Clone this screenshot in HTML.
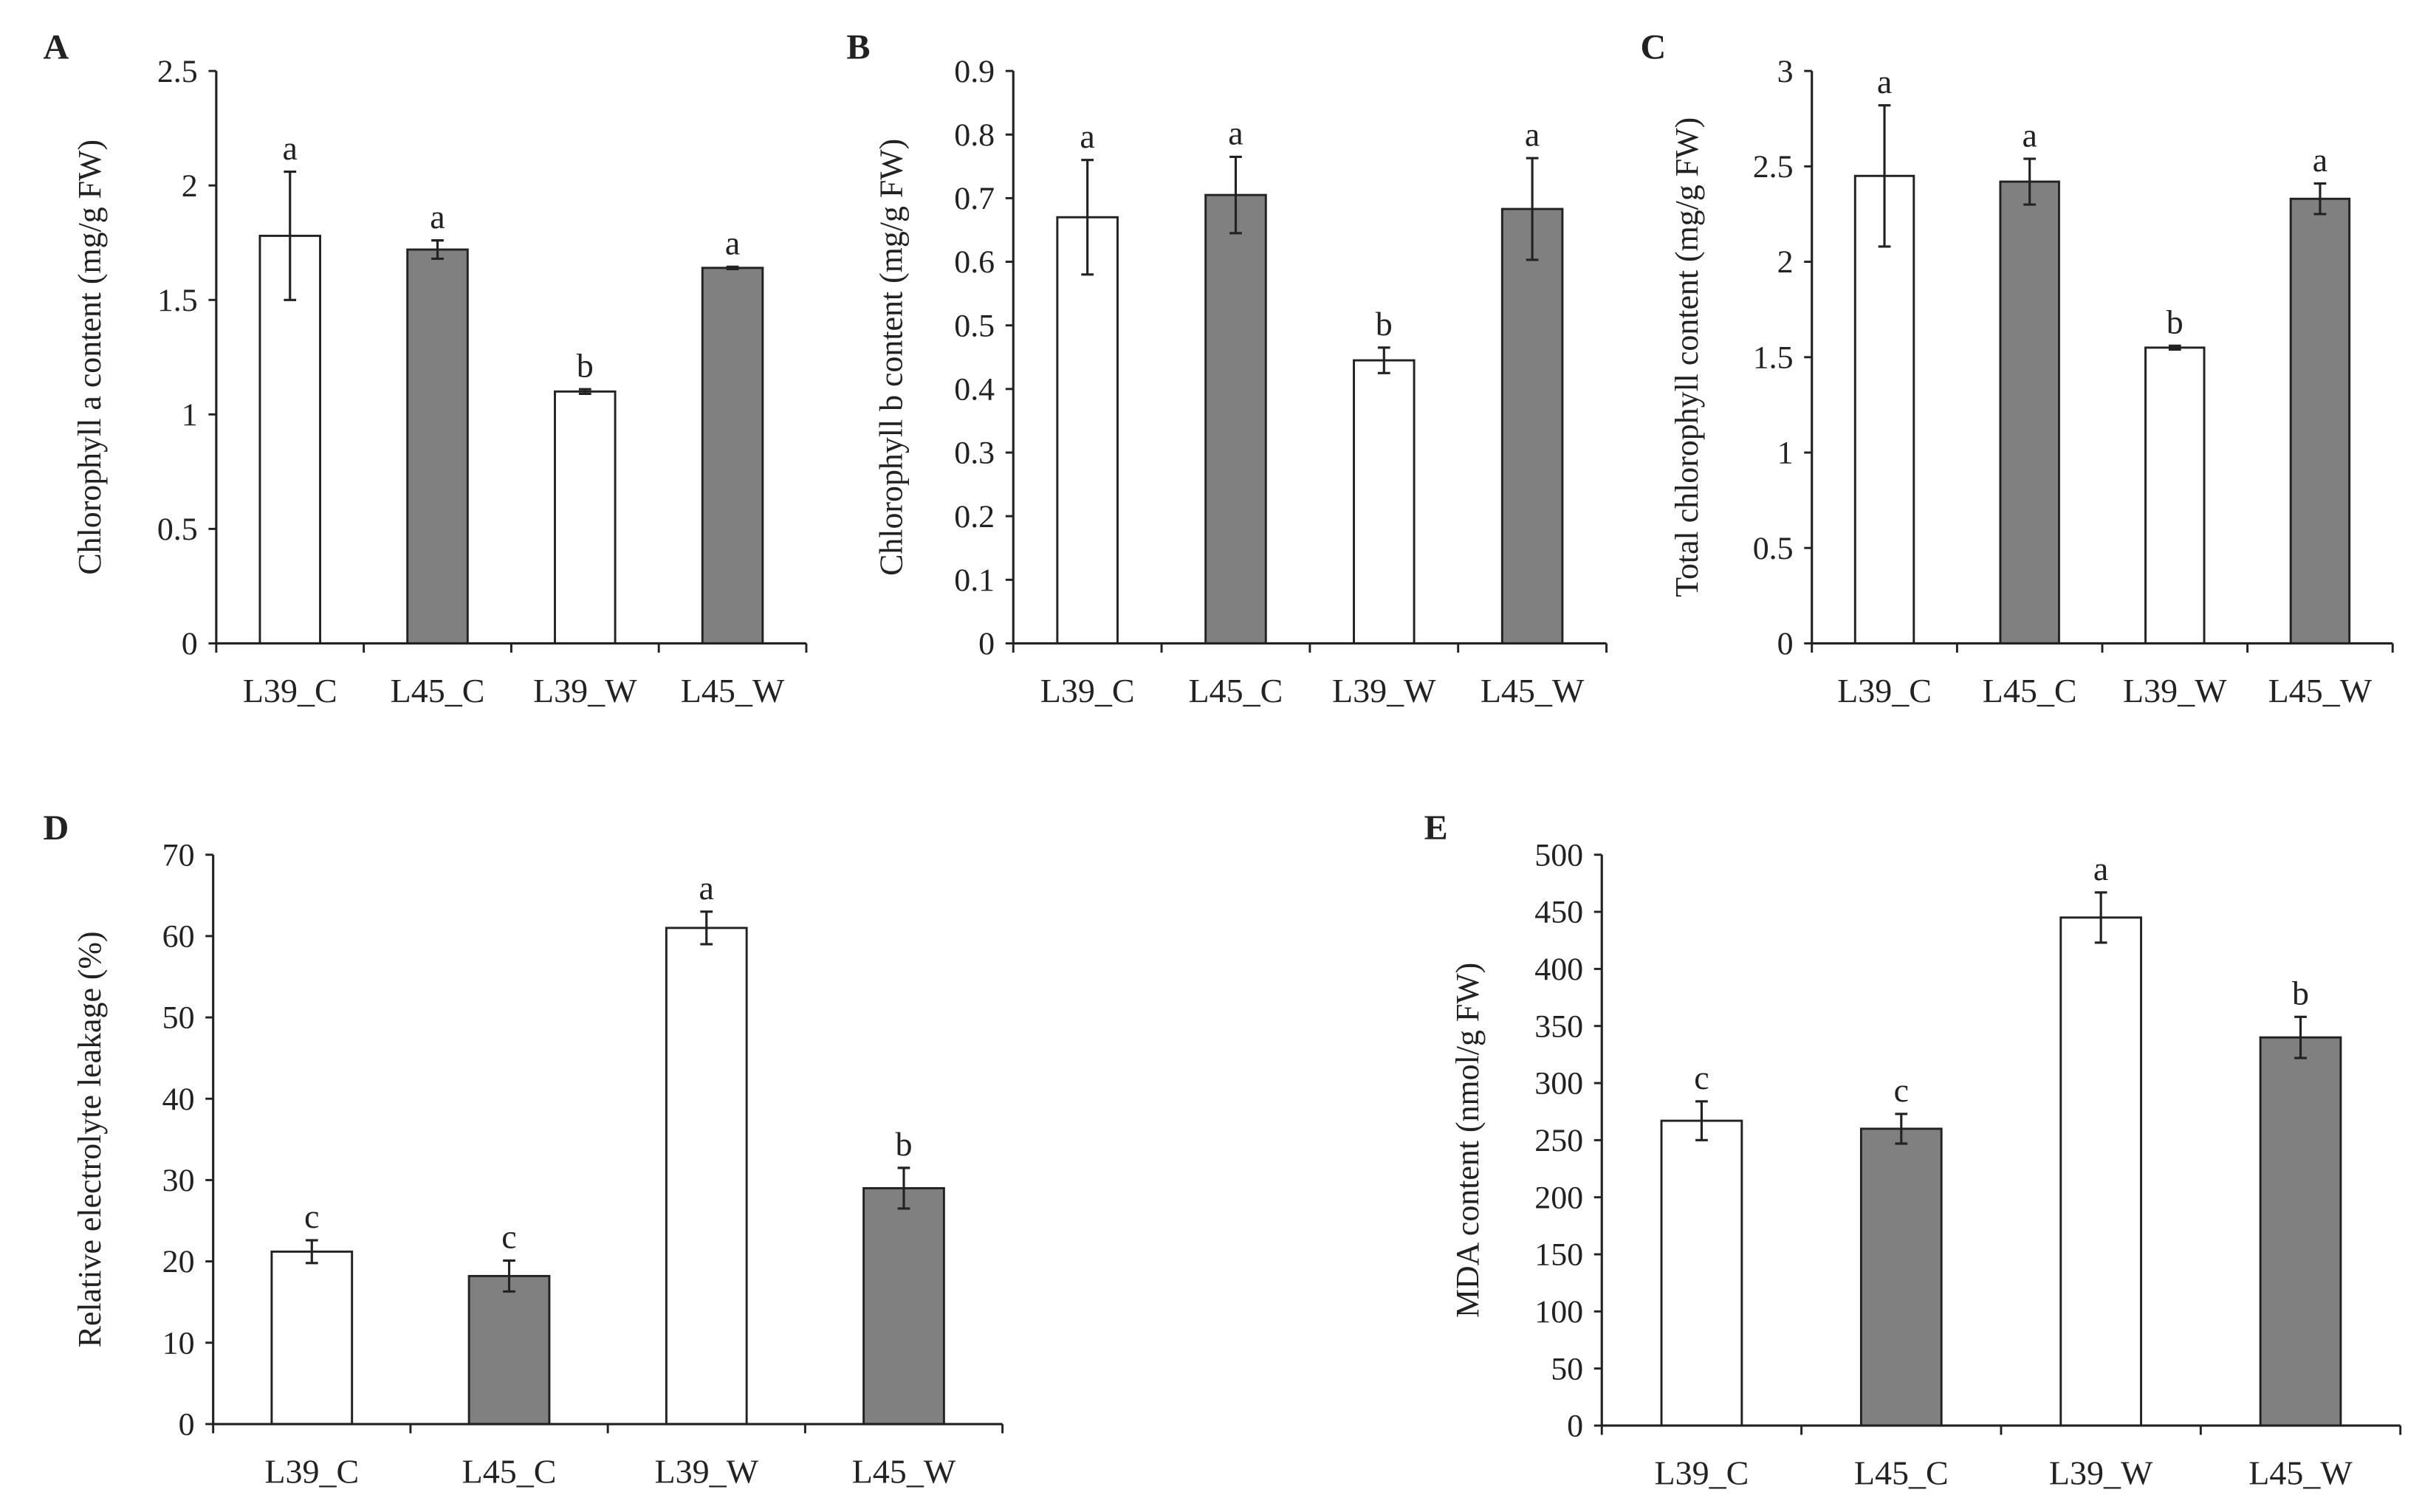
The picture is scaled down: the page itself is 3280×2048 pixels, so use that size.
<!DOCTYPE html>
<html><head><meta charset="utf-8">
<style>html,body{margin:0;padding:0;background:#fff;}svg{display:block;}</style>
</head><body>
<svg id="fig" width="3280" height="2048" viewBox="0 0 1568 980" preserveAspectRatio="none" xmlns="http://www.w3.org/2000/svg" font-family="Liberation Serif, serif" fill="#222"></svg>
<script>
const categories = ["L39_C","L45_C","L39_W","L45_W"];
const valuesA = [1.78,1.72,1.10,1.64];
const errA = [0.28,0.04,0.01,0.005];
const lettersA = ["a","a","b","a"];
const ticksA = ["0","0.5","1","1.5","2","2.5"];
const valuesB = [0.67,0.705,0.445,0.683];
const errB = [0.09,0.06,0.02,0.08];
const lettersB = ["a","a","b","a"];
const ticksB = ["0","0.1","0.2","0.3","0.4","0.5","0.6","0.7","0.8","0.9"];
const valuesC = [2.45,2.42,1.55,2.33];
const errC = [0.37,0.12,0.01,0.08];
const lettersC = ["a","a","b","a"];
const ticksC = ["0","0.5","1","1.5","2","2.5","3"];
const valuesD = [21.2,18.2,61.0,29.0];
const errD = [1.4,1.9,2.0,2.5];
const lettersD = ["c","c","a","b"];
const ticksD = ["0","10","20","30","40","50","60","70"];
const valuesE = [267,260,445,340];
const errE = [17,13,22,18];
const lettersE = ["c","c","a","b"];
const ticksE = ["0","50","100","150","200","250","300","350","400","450","500"];

const NS = "http://www.w3.org/2000/svg";
const svg = document.getElementById("fig");
function mk(tag, attrs, parent) {
  const e = document.createElementNS(NS, tag);
  for (const k in attrs) e.setAttribute(k, attrs[k]);
  (parent || svg).appendChild(e);
  return e;
}
const panels = [
  {id:"a", letter:"A", lx:28, ly:38, x0:140, x1:522, top:46, bot:417, ticks:ticksA, vals:valuesA, err:errA, let:lettersA, title:"Chlorophyll a content (mg/g FW)", tx:58, bw:39},
  {id:"b", letter:"B", lx:548, ly:38, x0:656, x1:1040, top:46, bot:417, ticks:ticksB, vals:valuesB, err:errB, let:lettersB, title:"Chlorophyll b content (mg/g FW)", tx:577, bw:39},
  {id:"c", letter:"C", lx:1062, ly:38, x0:1173, x1:1549, top:46, bot:417, ticks:ticksC, vals:valuesC, err:errC, let:lettersC, title:"Total chlorophyll content (mg/g FW)", tx:1092, bw:38},
  {id:"d", letter:"D", lx:28, ly:544, x0:138, x1:649, top:554, bot:923, ticks:ticksD, vals:valuesD, err:errD, let:lettersD, title:"Relative electrolyte leakage (%)", tx:58, bw:52},
  {id:"e", letter:"E", lx:922, ly:544, x0:1037, x1:1554, top:554, bot:924, ticks:ticksE, vals:valuesE, err:errE, let:lettersE, title:"MDA content (nmol/g FW)", tx:950, bw:52}
];
panels.forEach(p => {
  const g = mk("g", {});
  
  
  const tmax = parseFloat(p.ticks[p.ticks.length-1]);
  const y = v => p.bot - (v / tmax) * (p.bot - p.top);
  const step = (p.x1 - p.x0) / categories.length;
  const xc = i => p.x0 + step * (i + 0.5);
  const L = mk("text", {x:p.lx, y:p.ly, "font-size":23, "font-weight":"bold"}, g);
  L.textContent = p.letter;
  
  
  p.vals.forEach((v, i) => {
    const r = mk("rect", {x:xc(i)-p.bw/2, y:y(v), width:p.bw, height:p.bot-y(v), fill: i%2 ? "#808080" : "#fff", stroke:"#222", "stroke-width":1.4}, g);
    
    
    const e = p.err[i], yt = y(v+e), yb = y(v-e), cx = xc(i);
    const eg = mk("path", {d:`M${cx},${yt}V${yb}M${cx-4},${yt}H${cx+4}M${cx-4},${yb}H${cx+4}`, stroke:"#222", "stroke-width":1.5, fill:"none"}, g);
    
    
    const t = mk("text", {x:cx, y:Math.min(yt, y(v)) - 8, "font-size":22, "text-anchor":"middle"}, g);
    t.textContent = p.let[i];
    
    
  });
  const ax = mk("path", {d:`M${p.x0},${p.top}V${p.bot}H${p.x1}`, stroke:"#222", "stroke-width":1.5, fill:"none"}, g);
  
  
  p.ticks.forEach(tk => {
    const ty = y(parseFloat(tk));
    mk("line", {x1:p.x0-5, x2:p.x0, y1:ty, y2:ty, stroke:"#222", "stroke-width":1.4}, g);
    const t = mk("text", {x:p.x0-12, y:ty+7, "font-size":21, "text-anchor":"end"}, g);
    t.textContent = tk;
    
    
  });
  for (let i = 0; i <= categories.length; i++) {
    const tx = p.x0 + step * i;
    mk("line", {x1:tx, x2:tx, y1:p.bot, y2:p.bot+6, stroke:"#222", "stroke-width":1.4}, g);
  }
  categories.forEach((c, i) => {
    const t = mk("text", {x:xc(i), y:p.bot+38, "font-size":22, "text-anchor":"middle"}, g);
    t.textContent = c;
    
    
  });
  const cy = (p.top + p.bot) / 2;
  const tt = mk("text", {x:p.tx, y:cy, "font-size":21, "text-anchor":"middle", transform:`rotate(-90 ${p.tx} ${cy})`, dy:7}, g);
  tt.textContent = p.title;
  
  
});
</script>
</body></html>
